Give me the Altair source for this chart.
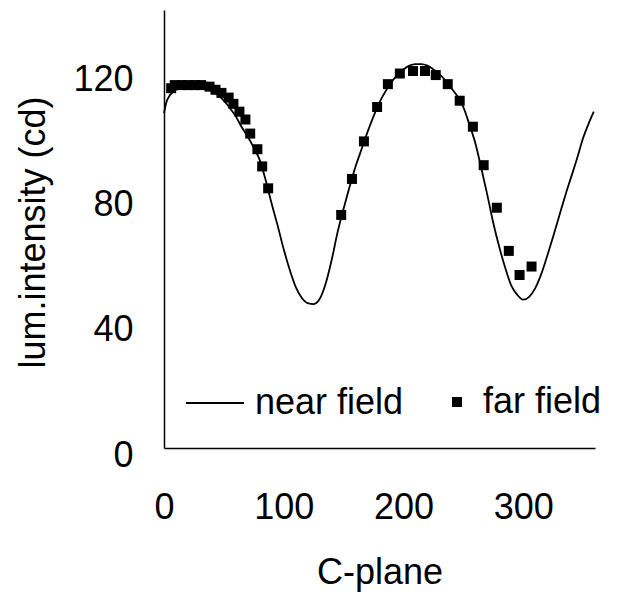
import altair as alt
import pandas as pd

# ---- data ----
near_angle = [0, 2, 5, 10, 15, 20, 25, 30, 35, 40, 45, 50, 55, 60, 65, 70, 75, 80, 85, 90,
              95, 100, 105, 110, 115, 120, 125, 130, 135, 140, 145, 150, 155, 160, 165, 170,
              175, 180, 185, 190, 195, 200, 205, 210, 215, 220, 225, 230, 235, 240, 245, 250,
              255, 260, 265, 270, 275, 280, 285, 290, 295, 300, 305, 310, 315, 320, 325, 330,
              335, 340, 345, 350, 355, 359]
near_val = [107, 110.5, 112.8, 114.5, 115.5, 116.2, 116.3, 116, 115.2, 114.2, 112.8, 111, 108.7,
            106, 102.5, 99.5, 96, 92, 85.5, 78, 71, 63.5, 57, 51.5, 48, 46.3, 46, 47.6, 52.5,
            60, 69, 76.5, 83.5, 90, 95.5, 101, 106, 110.5, 114, 117, 119.3, 121, 122.2, 122.7,
            122.7, 122.2, 121, 119.5, 117.5, 115, 112.5, 109, 103.5, 97.5, 89.5, 81, 72, 64.3,
            57.6, 52, 49, 47.4, 48.3, 51, 55.5, 61.3, 67.5, 74, 80.5, 86.5, 92.5, 99, 104, 107.5]

far_angle = [6, 9, 15, 20, 26, 31, 38, 43, 48, 54, 58, 63, 68, 72, 78, 82, 87,
             148, 157, 167, 178, 187, 197, 208, 218, 227, 237, 247, 258, 267, 278, 288, 297, 307]
far_val = [115, 116, 116, 116, 116, 116, 115.5, 114.5, 113.5, 112, 110, 107.5, 105, 100.5, 95.5,
           90, 83, 74.5, 86, 98, 109, 116.3, 119.7, 120.5, 120.5, 119.2, 116.3, 111, 102.7, 90.4,
           76.8, 63, 55.3, 58]

x_ticks = [0, 100, 200, 300]
y_ticks = [0, 40, 80, 120]

near_df = pd.DataFrame({"angle": near_angle, "value": near_val, "near": "near field"})
far_df = pd.DataFrame({"angle": far_angle, "value": far_val, "far": "far field"})

FONT = "Liberation Sans"
FS = 36

x_enc = alt.X(
    "angle:Q",
    scale=alt.Scale(domain=[0, 360], nice=False, zero=False),
    axis=alt.Axis(
        values=x_ticks, title="C-plane", grid=False, ticks=False, tickSize=0,
        labelPadding=70, labelBaseline="alphabetic", labelFont=FONT, labelFontSize=FS,
        labelColor="black", labelFlush=False, domainColor="black", domainWidth=1.5,
        titleFont=FONT, titleFontSize=FS, titleFontWeight="normal", titleColor="black",
        titleBaseline="alphabetic", titleY=135, titleX=215.5, titleAlign="center",
    ),
)
y_enc = alt.Y(
    "value:Q",
    scale=alt.Scale(domain=[0, 140], nice=False),
    axis=alt.Axis(
        values=y_ticks, title="lum.intensity (cd)", grid=False, ticks=False, tickSize=0,
        labelPadding=31, labelAlign="right", labelBaseline="alphabetic", labelOffset=18,
        labelFont=FONT, labelFontSize=FS, labelColor="black", labelFlush=False,
        domainColor="black", domainWidth=1.5,
        titleFont=FONT, titleFontSize=FS, titleFontWeight="normal", titleColor="black",
        titleAngle=-90, titleBaseline="alphabetic", titleAlign="center",
        titleX=-120, titleY=222,
    ),
)

line = alt.Chart(near_df).mark_line(strokeWidth=1.8, interpolate="monotone").encode(
    x=x_enc,
    y=y_enc,
    color=alt.Color(
        "near:N", scale=alt.Scale(range=["black"]),
        legend=alt.Legend(
            title=None, orient="none", legendX=21, legendY=363, padding=0,
            symbolType="stroke", symbolSize=3364, symbolStrokeWidth=1.8,
            symbolStrokeColor="black", labelFont=FONT, labelFontSize=FS,
            labelColor="black", labelOffset=10,
        ),
    ),
)

points = alt.Chart(far_df).mark_point(filled=True, size=100, opacity=1, color="black").encode(
    x="angle:Q",
    y="value:Q",
    shape=alt.Shape(
        "far:N", scale=alt.Scale(range=["square"]),
        legend=alt.Legend(
            title=None, orient="none", legendX=275, legendY=374, padding=0,
            symbolSize=100, symbolFillColor="black", symbolStrokeWidth=0,
            labelFont=FONT, labelFontSize=FS, labelColor="black", labelOffset=8,
        ),
    ),
)

chart = (
    alt.layer(line, points)
    .properties(
        width=431, height=438,
        autosize=alt.AutoSizeParams(type="none"),
        padding={"left": 164, "top": 10, "right": 25, "bottom": 146},
        background="white",
    )
    .configure_view(stroke=None)
)

chart.save("out.html", embed_options={"renderer": "svg", "actions": False})
